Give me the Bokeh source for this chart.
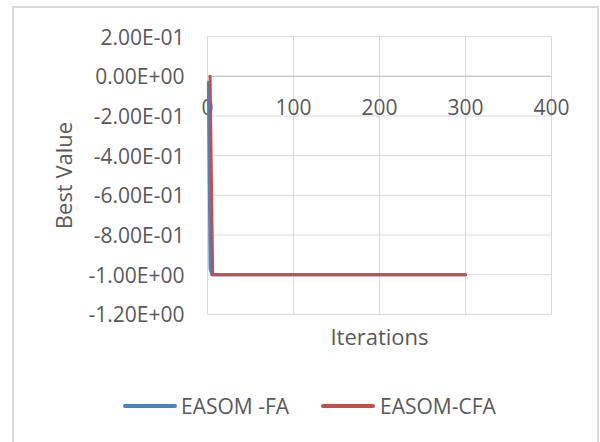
from bokeh.plotting import figure
from bokeh.models import Range1d, FixedTicker, CustomJSTickFormatter, Div
from bokeh.layouts import column
from bokeh.core.properties import value
from bokeh.embed import file_html
from bokeh.resources import INLINE

# ---- data ----
fa_iter = [1, 3, 5, 300]
fa_best = [-0.03, -0.97, -1.0, -1.0]
cfa_iter = [3, 6, 300]
cfa_best = [0.0, -1.0, -1.0]
series_names = ["EASOM -FA", "EASOM-CFA"]

x_ticks = [0, 100, 200, 300, 400]
x_tick_labels = ["0", "100", "200", "300", "400"]
y_ticks = [0.2, 0.0, -0.2, -0.4, -0.6, -0.8, -1.0, -1.2]
y_tick_labels = ["2.00E-01", "0.00E+00", "-2.00E-01", "-4.00E-01",
                 "-6.00E-01", "-8.00E-01", "-1.00E+00", "-1.20E+00"]
x_axis_crosses_at = 0.0

FONT = "Open Sans"
TEXT = "#595959"
GRID = "#d9d9d9"
BLUE = "#4F81BD"
RED = "#C0504D"
series_colors = [BLUE, RED]

LOOKUP = """
let best = 0; let d = Infinity;
for (let i = 0; i < tv.length; i++) { const e = Math.abs(tv[i] - tick); if (e < d) { d = e; best = i; } }
return tl[best];
"""

x_lo, x_hi = x_ticks[0], x_ticks[-1]
y_lo, y_hi = min(y_ticks), max(y_ticks)

# ---------------- main chart ----------------
# view slightly wider than the 0..400 plot area so the labels "0" and "400"
# of the crossing axis are not clipped
p = figure(width=600, height=360, output_backend="svg", toolbar_location=None,
           x_range=Range1d(-23.25, 423.25), y_range=Range1d(-1.2056, 0.2056),
           min_border_left=187, min_border_right=29, min_border_top=35,
           min_border_bottom=45)
p.outline_line_color = None
p.background_fill_color = "white"
p.border_fill_alpha = 0
p.xgrid.visible = False
p.ygrid.visible = False

n_y, n_x = len(y_ticks), len(x_ticks)
p.segment(x0=[x_lo] * n_y, x1=[x_hi] * n_y, y0=y_ticks, y1=y_ticks,
          line_color=GRID, line_width=1)
p.segment(x0=x_ticks, x1=x_ticks, y0=[y_lo] * n_x, y1=[y_hi] * n_x,
          line_color=GRID, line_width=1)
p.segment(x0=[x_lo], x1=[x_hi], y0=[x_axis_crosses_at], y1=[x_axis_crosses_at],
          line_color="#bfbfbf", line_width=1)
p.text(x=x_ticks, y=[x_axis_crosses_at] * n_x, text=x_tick_labels,
       text_align="center", text_baseline="middle", y_offset=31,
       text_font=value(FONT), text_font_size="21px", text_color=TEXT)

# y axis
p.yaxis.ticker = FixedTicker(ticks=y_ticks)
p.yaxis.formatter = CustomJSTickFormatter(args=dict(tv=y_ticks, tl=y_tick_labels), code=LOOKUP)
p.yaxis.axis_line_color = None
p.yaxis.major_tick_out = 0
p.yaxis.major_tick_in = 0
p.yaxis.minor_tick_line_color = None
p.yaxis.major_label_standoff = 3
p.yaxis.major_label_text_font = FONT
p.yaxis.major_label_text_font_size = "21px"
p.yaxis.major_label_text_color = TEXT
p.yaxis.axis_label = "Best Value"
p.yaxis.axis_label_text_font = FONT
p.yaxis.axis_label_text_font_size = "22px"
p.yaxis.axis_label_text_font_style = "normal"
p.yaxis.axis_label_text_color = TEXT
p.yaxis.axis_label_standoff = 8

# bottom axis carries only the title
p.xaxis.ticker = FixedTicker(ticks=[])
p.xaxis.axis_line_color = None
p.xaxis.major_tick_out = 0
p.xaxis.major_tick_in = 0
p.xaxis.minor_tick_line_color = None
p.xaxis.axis_label = "Iterations"
p.xaxis.axis_label_text_font = FONT
p.xaxis.axis_label_text_font_size = "22px"
p.xaxis.axis_label_text_font_style = "normal"
p.xaxis.axis_label_text_color = TEXT
p.xaxis.axis_label_standoff = 5

p.line(fa_iter, fa_best, line_color=BLUE, line_width=3,
       line_join="round", line_cap="round")
p.line(cfa_iter, cfa_best, line_color=RED, line_width=3,
       line_join="round", line_cap="round")

# ---------------- legend strip ----------------
key_left = [123, 321]
label_left = [181, 380]
parts = []
for name, col, kx, lx in zip(series_names, series_colors, key_left, label_left):
    parts.append(
        f'<div style="position:absolute;left:{kx}px;top:44px;width:54px;height:4px;'
        f'border-radius:2px;background:{col};"></div>'
        f'<div style="position:absolute;left:{lx}px;top:32px;line-height:28px;'
        f'white-space:nowrap;">{name}</div>'
    )
legend_html = (
    f'<div style="position:relative;width:600px;height:82px;font-family:\'{FONT}\';'
    f'font-size:21px;color:{TEXT};">' + "".join(parts) + '</div>'
)
lg = Div(text=legend_html, width=600, height=82, margin=0)

page = column(p, lg, spacing=0)
page.styles = {
    "background": ("linear-gradient(#d9d9d9,#d9d9d9) 12px 6px / 2px 100% no-repeat, "
                   "linear-gradient(#d9d9d9,#d9d9d9) 597px 6px / 2px 100% no-repeat, "
                   "linear-gradient(#d9d9d9,#d9d9d9) 12px 6px / 587px 2px no-repeat, white"),
}

open("out.html", "w").write(file_html(page, INLINE))
